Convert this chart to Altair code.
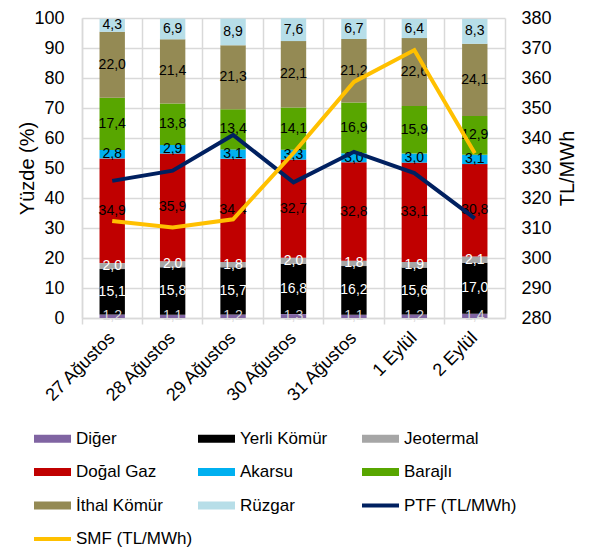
import altair as alt
import pandas as pd

dates = ["27 Ağustos", "28 Ağustos", "29 Ağustos", "30 Ağustos", "31 Ağustos", "1 Eylül", "2 Eylül"]
series = ["Diğer", "Yerli Kömür", "Jeotermal", "Doğal Gaz", "Akarsu", "Barajlı", "İthal Kömür", "Rüzgar"]
line_series = ["PTF (TL/MWh)", "SMF (TL/MWh)"]

diger = [1.2, 1.1, 1.2, 1.3, 1.1, 1.2, 1.4]
yerli = [15.1, 15.8, 15.7, 16.8, 16.2, 15.6, 17.0]
jeotermal = [2.0, 2.0, 1.8, 2.0, 1.8, 1.9, 2.1]
dogalgaz = [34.9, 35.9, 34.4, 32.7, 32.8, 33.1, 30.8]
akarsu = [2.8, 2.9, 3.1, 3.3, 3.0, 3.0, 3.1]
barajli = [17.4, 13.8, 13.4, 14.1, 16.9, 15.9, 12.9]
ithal = [22.0, 21.4, 21.3, 22.1, 21.2, 22.6, 24.1]
ruzgar = [4.3, 6.9, 8.9, 7.6, 6.7, 6.4, 8.3]

ptf = [325.7, 329.1, 341.0, 325.2, 335.4, 328.3, 313.2]
smf = [312.3, 310.2, 312.9, 335.0, 358.7, 369.3, 334.9]

colors = ["#8064A2", "#000000", "#A6A6A6", "#C00000", "#00B0F0", "#58A600",
          "#948A54", "#B7DEE8", "#002060", "#FFC000"]
label_colors = ["#D9D9D9", "#FFFFFF", "#FFFFFF", "#000000", "#000000", "#000000", "#000000", "#000000"]

bar_values = [diger, yerli, jeotermal, dogalgaz, akarsu, barajli, ithal, ruzgar]
rows = []
for i, s in enumerate(series):
    for j, d in enumerate(dates):
        v = bar_values[i][j]
        rows.append(dict(date=d, series=s, idx=i, value=v,
                         label=f"{v:.1f}".replace(".", ","), tcolor=label_colors[i]))
bar_df = pd.DataFrame(rows)

lrows = []
for s, vals in zip(line_series, [ptf, smf]):
    for j, d in enumerate(dates):
        lrows.append(dict(date=d, series=s, price=vals[j]))
line_df = pd.DataFrame(lrows)

FONT = "Liberation Sans"
GRID = "#D9D9D9"

x = alt.X("date:N", sort=dates, scale=alt.Scale(paddingInner=0, paddingOuter=0),
          axis=alt.Axis(title=None, labelAngle=315, labelAlign="right", labelBaseline="middle",
                        labelFontSize=18, labelFont=FONT, labelColor="#000000",
                        bandPosition=0, labelOffset=0, labelPadding=11,
                        grid=True, gridColor=GRID, gridWidth=1.5,
                        ticks=True, tickSize=6, tickColor=GRID, tickWidth=1.5,
                        domainColor=GRID, domainWidth=1.5))

yaxis = alt.Axis(title="Yüzde (%)", titleFontSize=20, titleFont=FONT, titleFontWeight="normal",
                 titleColor="#000000", titlePadding=-4,
                 values=list(range(0, 101, 10)), labelFontSize=18, labelFont=FONT, labelColor="#000000",
                 ticks=False, tickSize=0, labelPadding=18,
                 grid=True, gridColor=GRID, gridWidth=1.5, domainColor=GRID, domainWidth=1.5)

sym_cond = "indexof(['PTF (TL/MWh)','SMF (TL/MWh)'], datum.value) >= 0"
color = alt.Color("series:N", scale=alt.Scale(domain=series + line_series, range=colors),
                  legend=alt.Legend(title=None, orient="none", legendX=-38, legendY=412,
                                    direction="horizontal",
                                    columns=3, gridAlign="all", columnPadding=-11, rowPadding=0.5,
                                    labelFontSize=17, labelFont=FONT, labelColor="#000000",
                                    labelLimit=300, labelOffset=15,
                                    symbolType="stroke", symbolSize=1369,
                                    symbolStrokeWidth=alt.ExprRef(expr=f"{sym_cond} ? 4 : 8")))

bars = alt.Chart(bar_df).mark_bar(width=alt.RelativeBandSize(0.42)).encode(
    x=x,
    y=alt.Y("value:Q", stack="zero", scale=alt.Scale(domain=[0, 100]), axis=yaxis),
    color=color,
    order=alt.Order("idx:Q", sort="ascending"),
)

text = alt.Chart(bar_df).transform_stack(
    stack="value", groupby=["date"], sort=[alt.SortField("idx", order="ascending")], as_=["v0", "v1"]
).transform_calculate(mid="(datum.v0 + datum.v1) / 2").mark_text(
    fontSize=14, font=FONT, baseline="middle", align="center"
).encode(
    x=x,
    y=alt.Y("mid:Q", scale=alt.Scale(domain=[0, 100]), axis=yaxis),
    text="label:N",
    fill=alt.Fill("tcolor:N", scale=None),
)

lines = alt.Chart(line_df).mark_line(strokeWidth=4).encode(
    x=x,
    y=alt.Y("price:Q", scale=alt.Scale(domain=[280, 380]),
            axis=alt.Axis(orient="right", title="TL/MWh", titleAngle=270, titleBaseline="top",
                          titleFontSize=20, titleFont=FONT,
                          titleFontWeight="normal", titleColor="#000000", titlePadding=6,
                          values=list(range(280, 381, 10)), labelFontSize=18, labelFont=FONT,
                          labelColor="#000000", ticks=False, tickSize=0, labelPadding=16,
                          grid=False, domainColor=GRID, domainWidth=1.5)),
    color=color,
)

chart = alt.layer(alt.layer(bars, text), lines).resolve_scale(y="independent").properties(
    width=423, height=300,
    padding={"left": 74, "top": 10, "right": 76, "bottom": 230},
    autosize=alt.AutoSizeParams(type="none"),
).configure_view(stroke=None)

chart.save("out.html", embed_options={"renderer": "svg", "actions": False})
